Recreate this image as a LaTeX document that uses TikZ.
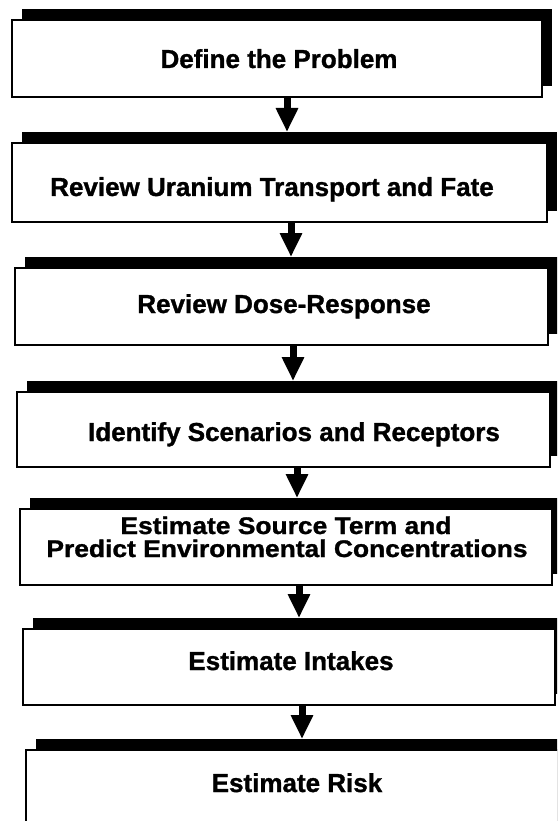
\documentclass[tikz,border=0pt]{standalone}
\usepackage{fontspec}
\setmainfont{Liberation Sans}[BoldFeatures={FakeBold=1.2}]
\usetikzlibrary{arrows.meta}
\tikzset{
  stepbox/.style={draw=black, line width=2.5pt, fill=white, inner sep=0pt, outer sep=0pt, rectangle},
  shadowbox/.style={fill=black, draw=none, inner sep=0pt, outer sep=0pt, rectangle},
  steptext/.style={font=\bfseries\fontsize{26}{22}\selectfont, align=center, inner sep=0pt, text=black},
  flow/.style={line width=7pt, -{Triangle[width=21pt,length=24pt]}}
}
\newcommand\mkstep[5]{%
  \node[shadowbox, minimum width=#4pt, minimum height=#5pt] (#1s) at (#2+10,#3-11) {};
  \node[stepbox, minimum width=#4pt, minimum height=#5pt] (#1) at (#2,#3) {};
}
\begin{document}
\begin{tikzpicture}[x=1pt,y=-1pt]
\useasboundingbox (0,0) rectangle (557,821);
\clip (0,0) rectangle (557,821);
\fill[white] (0,0) rectangle (557,821);
% boxes
\mkstep{b1}{277}{58.5}{530}{77}
\mkstep{b2}{279.5}{182.5}{535}{79}
\mkstep{b3}{281.5}{306.5}{533}{77}
\mkstep{b4}{283.5}{429.5}{533}{75}
\mkstep{b5}{286}{547}{532}{76}
\mkstep{b6}{289}{667}{532}{76}
\mkstep{b7}{307}{825}{562}{150}
% texts
\node[steptext, anchor=base] (t1) at (279,68) {Define the Problem};
\node[steptext, anchor=base] (t2) at (272,196) {Review Uranium Transport and Fate};
\node[steptext, anchor=base] (t3) at (284,313) {Review Dose-Response};
\node[steptext, anchor=base] (t4) at (294,441) {Identify Scenarios and Receptors};
\node[steptext, anchor=base] (t5a) at (286,534) {\addfontfeature{FakeStretch=1.1}\fontsize{24}{24}\selectfont Estimate Source Term and};
\node[steptext, anchor=base] (t5b) at (287,557) {\addfontfeature{FakeStretch=1.1}\fontsize{24}{24}\selectfont Predict Environmental Concentrations};
\node[steptext, anchor=base] (t6) at (291,670) {Estimate Intakes};
\node[steptext, anchor=base] (t7) at (297,792) {Estimate Risk};
% arrow columns
\coordinate (x1) at (287,0);
\coordinate (x2) at (291,0);
\coordinate (x3) at (293,0);
\coordinate (x4) at (297,0);
\coordinate (x5) at (299,0);
\coordinate (x6) at (302,0);
\draw[flow] (b1.south -| x1) -- (b2s.north -| x1);
\draw[flow] (b2.south -| x2) -- (b3s.north -| x2);
\draw[flow] (b3.south -| x3) -- (b4s.north -| x3);
\draw[flow] (b4.south -| x4) -- (b5s.north -| x4);
\draw[flow] (b5.south -| x5) -- (b6s.north -| x5);
\draw[flow] (b6.south -| x6) -- (b7s.north -| x6);
\end{tikzpicture}
\end{document}
